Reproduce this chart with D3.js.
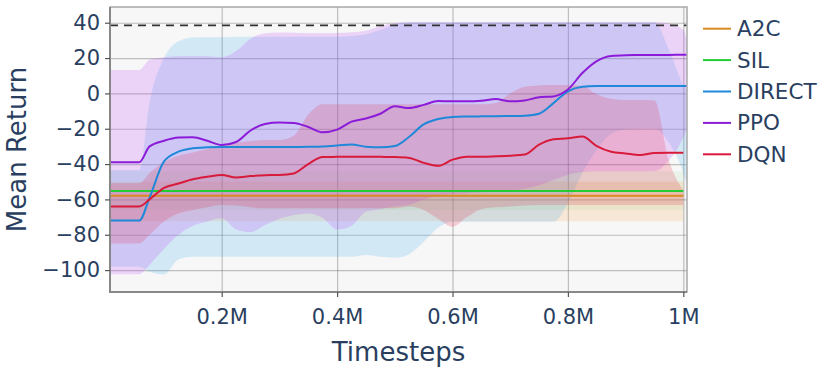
<!DOCTYPE html>
<html>
<head>
<meta charset="utf-8">
<script src="https://cdn.jsdelivr.net/npm/d3@7"></script>
<style>
  body { margin: 0; background: #fff; }
  svg { display: block; font-family: "DejaVu Sans", sans-serif; }
</style>
</head>
<body>
<div id="chart"></div>
<script>
// ── Data ────────────────────────────────────────────────────────────────────
const timesteps = [
  6400, 57000, 75000, 100000, 125000, 150000, 175000, 200000, 225000, 250000,
  275000, 300000, 325000, 350000, 375000, 400000, 425000, 450000, 475000, 500000,
  525000, 550000, 575000, 600000, 625000, 650000, 675000, 700000, 725000, 750000,
  775000, 800000, 825000, 850000, 875000, 900000, 925000, 950000, 975000, 1000000,
  1006400,
];

const ppoMean = [
  -39, -39, -30, -26.8, -25, -24.8, -26.8, -29.2, -27.5, -21,
  -17.3, -16.5, -16.7, -19, -22, -20.5, -16, -14.2, -11.5, -7.3,
  -8.3, -6.5, -4.3, -4.5, -4.5, -4.2, -3.2, -4.5, -4, -2.2,
  -1.7, 2.2, 11.5, 18.3, 21.2, 21.6, 21.7, 21.8, 21.8, 21.9,
  21.9,
];
const ppoUpper = [
  13.2, 13.2, 19, 20.5, 21, 21, 21, 20.5, 24, 31,
  34, 34.5, 34.3, 34, 34, 34.2, 34.6, 35.5, 38, 39.8,
  40.2, 40.2, 40.2, 40.2, 40.2, 40.2, 40.2, 40.2, 40.2, 40.2,
  40.2, 40.2, 40.2, 40.2, 40.2, 40.2, 40.2, 40.2, 39.5, 36,
  30,
];
const ppoLower = [
  -102.4, -102.4, -97, -88, -80, -75, -72.5, -70.7, -77, -78.5,
  -74.5, -71, -68.8, -68, -70.5, -77, -75, -67, -65.5, -64,
  -63, -60, -58, -57, -56.5, -56, -55.5, -55, -54, -52,
  -49, -46, -44.5, -44, -44, -44, -44, -44, -38, -25,
  -20,
];

const directMean = [
  -72, -72, -59, -38.5, -33, -31, -30.5, -30.3, -30.3, -30.3,
  -30.3, -30.3, -30.3, -30.2, -30, -29.5, -28.9, -30.2, -30.5, -29.8,
  -24.5, -17.5, -14.5, -13.3, -13.1, -13, -12.9, -12.8, -12.6, -11.5,
  -5.5, 1.2, 3.7, 4.2, 4.2, 4.2, 4.2, 4.2, 4.2, 4.2,
  4.2,
];
const directUpper = [
  -43.4, -43.4, -5, 20, 29.5, 31.7, 31.8, 31.8, 32, 32,
  32, 32, 32, 32, 32, 32, 32.5, 33.5, 36, 39,
  40.2, 40.2, 40.2, 40.2, 40.2, 40.2, 40.2, 40.2, 40.2, 40.2,
  40.2, 40.2, 40.2, 40.2, 40.2, 40.2, 40.2, 40.2, 25, 5,
  2,
];
const directLower = [
  -98.1, -98.1, -101, -102.5, -94, -92.5, -92.5, -92.5, -92.5, -92.5,
  -92.5, -92.5, -92.5, -92.5, -92.5, -92.5, -92.5, -91.5, -92.5, -93,
  -91, -84, -76, -72.6, -72.6, -72.6, -72.6, -72.6, -72.6, -72.6,
  -72.6, -62, -45, -32, -23, -20.5, -20, -20, -28, -45,
  -52,
];

const dqnMean = [
  -64, -64, -60, -53.5, -51, -48.6, -47.2, -46.2, -47.6, -46.8,
  -46.3, -46.2, -45.3, -40, -36, -35.9, -35.8, -35.8, -35.9, -36,
  -36.5, -39.3, -41, -37.5, -35.8, -35.8, -35.6, -35.3, -34.6, -29,
  -26, -25.4, -24.4, -29.8, -33, -34, -34.9, -33.7, -33.6, -33.6,
  null,
];
const dqnUpper = [
  -50.9, -50.9, -45, -39, -35.3, -33.5, -31.5, -29.2, -28, -27,
  -26.4, -26.4, -24, -12, -6.2, -6.2, -6.2, -6.2, -6.2, -6.2,
  -6.2, -6.2, -6.2, -6.2, -6.2, -6.2, -5.5, 0, 3.8, 4.5,
  4.7, 4.7, 4.2, -0.5, -3, -3.8, -3.8, -4, -38, -55,
  null,
];
const dqnLower = [
  -84.9, -84.9, -80, -72.5, -68, -66, -64.5, -63.2, -63.5, -64.5,
  -65, -65, -65, -65, -65, -65, -65, -65, -65, -65,
  -64, -66, -71, -75.5, -70, -65.5, -64.5, -64, -63.5, -63.2,
  -63.2, -63.2, -63.2, -63.2, -63.2, -63.2, -63.2, -63.2, -63.2, -63.2,
  null,
];

// flat baselines, own sampling
const flatSteps = [6400, 250000, 500000, 750000, 1000000];
const silMean = [-55.3, -55.3, -55.3, -55.3, -55.3];
const silUpper = [-44, -44, -44, -44, -44];
const silLower = [-66, -66, -66, -66, -66];
const a2cMean = [-57.9, -57.9, -57.9, -57.9, -57.9];
const a2cUpper = [-50, -50, -50, -50, -50];
const a2cLower = [-72.3, -72.3, -72.3, -72.3, -72.3];

const targetReturn = 38.5;

const xTicks = [200000, 400000, 600000, 800000, 1000000];
const yTicks = [-100, -80, -60, -40, -20, 0, 20, 40];

const SERIES = [
  { name: "A2C", color: "#d98a22", fill: "rgba(250,170,90,0.2)", steps: flatSteps, mean: a2cMean, lo: a2cLower, hi: a2cUpper },
  { name: "SIL", color: "#22cc33", fill: "rgba(60,200,60,0.07)", steps: flatSteps, mean: silMean, lo: silLower, hi: silUpper },
  { name: "DIRECT", color: "#1f88d8", fill: "rgba(72,177,242,0.2)", steps: timesteps, mean: directMean, lo: directLower, hi: directUpper },
  { name: "PPO", color: "#8b1bd8", fill: "rgba(192,72,252,0.2)", steps: timesteps, mean: ppoMean, lo: ppoLower, hi: ppoUpper },
  { name: "DQN", color: "#d81b3a", fill: "rgba(230,40,70,0.2)", steps: timesteps, mean: dqnMean, lo: dqnLower, hi: dqnUpper },
];

// ── Layout ──────────────────────────────────────────────────────────────────
const W = 831, H = 369;
const M = { top: 7, right: 144, bottom: 77, left: 110 };
const innerW = W - M.left - M.right;
const innerH = H - M.top - M.bottom;
const TEXT = "#2a3f5f";

const x = d3.scaleLinear().domain([6400, 1006400]).range([M.left, M.left + innerW]);
const y = d3.scaleLinear().domain([-112.4, 48.9]).range([M.top + innerH, M.top]);

const svg = d3.select("#chart").append("svg").attr("width", W).attr("height", H);

svg.append("defs").append("clipPath").attr("id", "plot-clip")
  .append("rect").attr("x", M.left).attr("y", M.top).attr("width", innerW).attr("height", innerH);

svg.append("rect")
  .attr("x", M.left).attr("y", M.top).attr("width", innerW).attr("height", innerH)
  .attr("fill", "#f7f7f7");

// grid
svg.append("g")
  .attr("transform", `translate(0,${M.top + innerH})`)
  .call(d3.axisBottom(x).tickValues(xTicks).tickSize(-innerH).tickFormat(""))
  .call((g) => g.select(".domain").remove())
  .selectAll("line").attr("stroke", "rgba(120,120,120,0.45)").attr("stroke-width", 1.2);

svg.append("g")
  .attr("transform", `translate(${M.left},0)`)
  .call(d3.axisLeft(y).tickValues(yTicks).tickSize(-innerW).tickFormat(""))
  .call((g) => g.select(".domain").remove())
  .selectAll("line").attr("stroke", "rgba(120,120,120,0.45)").attr("stroke-width", 1.2);

const plot = svg.append("g").attr("clip-path", "url(#plot-clip)");

// std bands
SERIES.forEach((s) => {
  const pts = s.steps.map((t, i) => ({ t, lo: s.lo[i], hi: s.hi[i] }));
  const area = d3.area()
    .defined((d) => d.lo != null)
    .x((d) => x(d.t))
    .y0((d) => y(d.lo))
    .y1((d) => y(d.hi))
    .curve(d3.curveMonotoneX);
  plot.append("path").datum(pts).attr("d", area).attr("fill", s.fill);
});

// target line
plot.append("line")
  .attr("x1", M.left).attr("x2", M.left + innerW)
  .attr("y1", y(targetReturn)).attr("y2", y(targetReturn))
  .attr("stroke", "#333").attr("stroke-width", 1.8).attr("stroke-dasharray", "8,6");

// mean lines
SERIES.forEach((s) => {
  const pts = s.steps.map((t, i) => ({ t, v: s.mean[i] }));
  const line = d3.line()
    .defined((d) => d.v != null)
    .x((d) => x(d.t))
    .y((d) => y(d.v))
    .curve(d3.curveMonotoneX);
  plot.append("path").datum(pts).attr("d", line)
    .attr("fill", "none").attr("stroke", s.color).attr("stroke-width", 2);
});

// frame
svg.append("rect")
  .attr("x", M.left).attr("y", M.top).attr("width", innerW).attr("height", innerH)
  .attr("fill", "none").attr("stroke", "#a8a8a8").attr("stroke-width", 1.5);
svg.append("line")
  .attr("x1", M.left).attr("x2", M.left).attr("y1", M.top).attr("y2", M.top + innerH + 1)
  .attr("stroke", "#888").attr("stroke-width", 2);
svg.append("line")
  .attr("x1", M.left - 1).attr("x2", M.left + innerW).attr("y1", M.top + innerH).attr("y2", M.top + innerH)
  .attr("stroke", "#888").attr("stroke-width", 2);

// axes
const xAxis = svg.append("g")
  .attr("transform", `translate(0,${M.top + innerH})`)
  .call(d3.axisBottom(x).tickValues(xTicks).tickSize(5).tickPadding(12)
    .tickFormat((d) => d / 1e6 + "M"));
xAxis.select(".domain").remove();
xAxis.selectAll("line").attr("stroke", "#555").attr("stroke-width", 1.2);
xAxis.selectAll("text").attr("fill", TEXT).style("font-size", "21px")
  .style("font-family", "DejaVu Sans");

const yAxis = svg.append("g")
  .attr("transform", `translate(${M.left},0)`)
  .call(d3.axisLeft(y).tickValues(yTicks).tickSize(5).tickPadding(5)
    .tickFormat(d3.format("d")));
yAxis.select(".domain").remove();
yAxis.selectAll("line").attr("stroke", "#555").attr("stroke-width", 1.2);
yAxis.selectAll("text").attr("fill", TEXT).style("font-size", "21px")
  .style("font-family", "DejaVu Sans");

// titles
svg.append("text")
  .attr("x", M.left + innerW / 2).attr("y", 361)
  .attr("text-anchor", "middle").attr("fill", TEXT)
  .style("font-size", "26px")
  .text("Timesteps");

svg.append("text")
  .attr("transform", `translate(26,${M.top + innerH / 2}) rotate(-90)`)
  .attr("text-anchor", "middle").attr("fill", TEXT)
  .style("font-size", "26px")
  .text("Mean Return");

// legend
const legend = svg.append("g").attr("transform", "translate(703,28.7)");
SERIES.forEach((s, i) => {
  const g = legend.append("g").attr("transform", `translate(0,${i * 31.4})`);
  g.append("line").attr("x1", 0).attr("x2", 28).attr("y1", 0).attr("y2", 0)
    .attr("stroke", s.color).attr("stroke-width", 2);
  g.append("text").attr("x", 34).attr("y", 0).attr("dy", "0.35em")
    .attr("fill", TEXT).style("font-size", "21.5px").text(s.name);
});
</script>
</body>
</html>
